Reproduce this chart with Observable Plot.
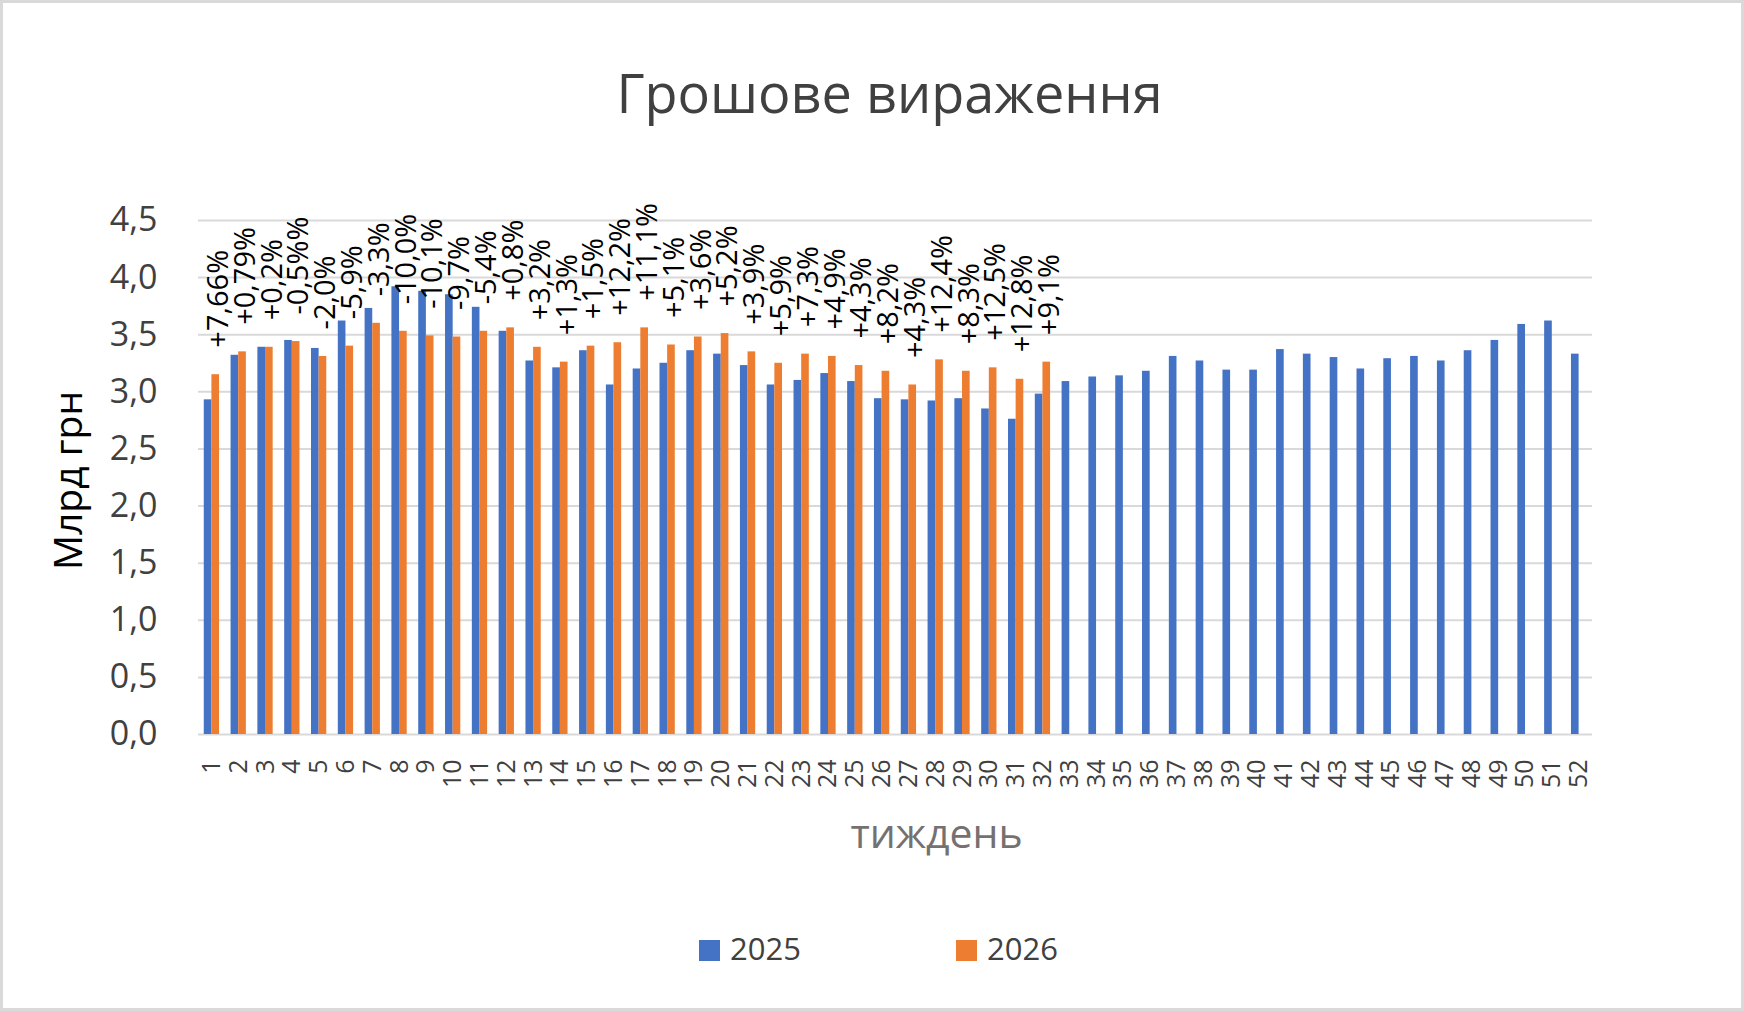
<!DOCTYPE html>
<html>
<head>
<meta charset="utf-8">
<script src="https://cdn.jsdelivr.net/npm/d3@7"></script>
<script src="https://cdn.jsdelivr.net/npm/@observablehq/plot@0.6"></script>
<style>
  html, body { margin: 0; padding: 0; background: #fff; }
  #wrap { position: relative; width: 1744px; height: 1011px; overflow: hidden; font-family: "Open Sans", sans-serif; background: #fff; }
  #header { position: relative; height: 150px; }
  #title { position: absolute; top: 65px; left: 35px; right: 0; text-align: center; font-size: 54px; line-height: 54px; color: #404040; white-space: nowrap; }
  #chart { height: 730px; }
  #chart svg { display: block; }
  #legend { position: relative; height: 131px; }
  .sw { position: absolute; top: 60px; width: 21px; height: 21px; }
  .lt { position: absolute; top: 53px; font-size: 31px; line-height: 31px; color: #404040; }
  #frame { position: absolute; left: 0; top: 0; width: 1744px; height: 1011px; box-sizing: border-box; border: 3px solid #d9d9d9; pointer-events: none; }
</style>
</head>
<body>
<div id="wrap">
  <div id="header"><div id="title">Грошове вираження</div></div>
  <div id="chart"></div>
  <div id="legend"></div>
  <div id="frame"></div>
</div>
<script>
// ---- Data ----
const weeks = [1,2,3,4,5,6,7,8,9,10,11,12,13,14,15,16,17,18,19,20,21,22,23,24,25,26,
               27,28,29,30,31,32,33,34,35,36,37,38,39,40,41,42,43,44,45,46,47,48,49,50,51,52];
const seriesNames = ["2025", "2026"];
const values2025 = [2.93,3.32,3.39,3.45,3.38,3.62,3.73,3.92,3.88,3.85,3.74,3.53,3.27,3.21,3.36,3.06,
                    3.20,3.25,3.36,3.33,3.23,3.06,3.10,3.16,3.09,2.94,2.93,2.92,2.94,2.85,2.76,2.98,
                    3.09,3.13,3.14,3.18,3.31,3.27,3.19,3.19,3.37,3.33,3.30,3.20,3.29,3.31,3.27,3.36,
                    3.45,3.59,3.62,3.33];
const values2026 = [3.15,3.35,3.39,3.44,3.31,3.40,3.60,3.53,3.49,3.48,3.53,3.56,3.39,3.26,3.40,3.43,
                    3.56,3.41,3.48,3.51,3.35,3.25,3.33,3.31,3.23,3.18,3.06,3.28,3.18,3.21,3.11,3.26];
const changeLabels = ["+7,66%","+0,79%","+0,2%","-0,5%%","-2,0%","-5,9%","-3,3%","-10,0%","-10,1%","-9,7%",
                      "-5,4%","+0,8%","+3,2%","+1,3%","+1,5%","+12,2%","+11,1%","+5,1%","+3,6%","+5,2%",
                      "+3,9%","+5,9%","+7,3%","+4,9%","+4,3%","+8,2%","+4,3%","+12,4%","+8,3%","+12,5%",
                      "+12,8%","+9,1%"];
const yTicks = [0,0.5,1,1.5,2,2.5,3,3.5,4,4.5];
const colors = ["#4472C4", "#ED7D31"];

// ---- Tables built from the arrays ----
const rows2025 = weeks.map((w, i) => ({week: w, value: values2025[i]}));
const rows2026 = values2026.map((v, i) => ({week: weeks[i], value: v, label: changeLabels[i]}));

// ---- Layout ----
const W = 1744, ML = 198, MR = 152;
const pad = 0.43;
const step = (W - ML - MR) / weeks.length;
const half = step * (1 - pad) / 2;

const chart = Plot.plot({
  width: W,
  height: 730,
  marginTop: 70,
  marginBottom: 146,
  marginLeft: ML,
  marginRight: MR,
  style: {fontFamily: "'Open Sans', sans-serif", background: "transparent", overflow: "visible"},
  x: {type: "band", domain: weeks, paddingInner: pad, paddingOuter: pad / 2},
  y: {domain: [0, 4.5]},
  marks: [
    Plot.gridY(yTicks, {stroke: "#d9d9d9", strokeWidth: 2, strokeOpacity: 1}),
    Plot.barY(rows2025, {x: "week", y: "value", fill: colors[0], insetRight: half}),
    Plot.barY(rows2026, {x: "week", y: "value", fill: colors[1], insetLeft: half}),
    Plot.text(rows2026, {x: "week", y: "value", text: "label", rotate: -90, textAnchor: "start",
      lineAnchor: "middle", dx: half / 2 + 3, dy: -27, fontSize: 29, fill: "#000"}),
    Plot.axisY({ticks: yTicks, tickFormat: d => d.toFixed(1).replace(".", ","), tickSize: 0,
      tickPadding: 41, fontSize: 34, fill: "#404040", label: null}),
    Plot.axisX({tickRotate: -90, textAnchor: "end", lineAnchor: "middle", tickSize: 0,
      tickPadding: 25, fontSize: 25, fill: "#404040", label: null}),
    Plot.text(["Млрд грн"], {text: d => d, frameAnchor: "left", rotate: -90, textAnchor: "middle",
      lineAnchor: "middle", dx: -129, dy: 3, fontSize: 39, fill: "#000"}),
    Plot.text(["тиждень"], {text: d => d, frameAnchor: "bottom", textAnchor: "middle", lineAnchor: "middle",
      dx: 41, dy: 100, fontSize: 41, fill: "#767171"})
  ]
});
document.getElementById("chart").appendChild(chart);

// ---- Legend ----
const legend = document.getElementById("legend");
const swX = [699, 956], txX = [730, 987];
seriesNames.forEach((name, i) => {
  const sw = document.createElement("div");
  sw.className = "sw";
  sw.style.left = swX[i] + "px";
  sw.style.background = colors[i];
  legend.appendChild(sw);
  const t = document.createElement("div");
  t.className = "lt";
  t.style.left = txX[i] + "px";
  t.textContent = name;
  legend.appendChild(t);
});
</script>
</body>
</html>
